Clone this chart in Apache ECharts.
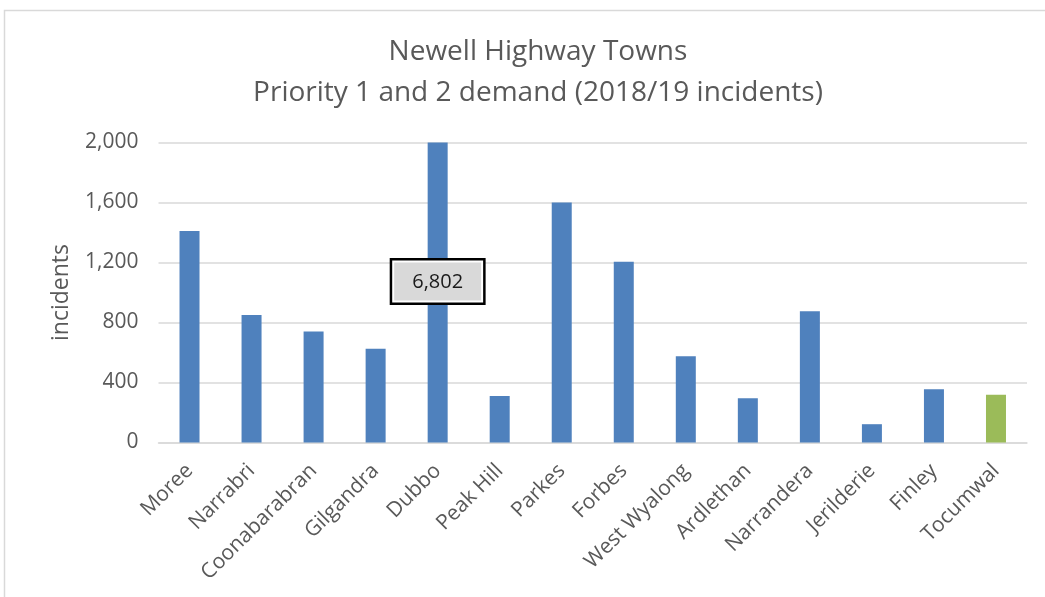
<!DOCTYPE html>
<html>
<head>
<meta charset="utf-8">
<title>Newell Highway Towns</title>
<script src="https://cdn.jsdelivr.net/npm/echarts@6/dist/echarts.min.js"></script>
<style>
  html, body { margin: 0; padding: 0; background: #ffffff; }
  #chart { width: 1045px; height: 597px; }
</style>
</head>
<body>
<div id="chart"></div>
<script>
// Towns along the Newell Highway, north to south
const towns = ['Moree', 'Narrabri', 'Coonabarabran', 'Gilgandra', 'Dubbo', 'Peak Hill',
  'Parkes', 'Forbes', 'West Wyalong', 'Ardlethan', 'Narrandera', 'Jerilderie', 'Finley', 'Tocumwal'];
// Priority 1 and 2 incidents, 2018/19
const incidents = [1410, 850, 740, 625, 6802, 310, 1600, 1205, 575, 295, 875, 122, 355, 318];
// Value axis ticks
const yMin = 0;
const yMax = 2000;
const yStep = 400;
// Town drawn in the highlight colour
const highlightTown = 'Tocumwal';
// Town whose bar runs off the scale and carries its value label
const labelledTown = 'Dubbo';

const FONT = 'Open Sans';
const BLUE = '#4f81bd';
const GREEN = '#9bbb59';
const GREY_TEXT = '#595959';

const withCommas = v => String(v).replace(/\B(?=(\d{3})+(?!\d))/g, ',');

const barData = towns.map((t, i) => {
  const item = { value: incidents[i] };
  if (t === highlightTown) item.itemStyle = { color: GREEN };
  if (t === labelledTown) {
    // Off-scale value shown in a boxed callout: black frame, white gap, grey fill
    item.label = {
      show: true,
      position: 'inside',
      offset: [0, -11],
      formatter: p => '{v|' + withCommas(p.value) + '}',
      backgroundColor: '#ffffff',
      borderColor: '#000000',
      borderWidth: 2.5,
      padding: 2,
      rich: {
        v: {
          fontFamily: FONT,
          fontSize: 20,
          color: '#1a1a1a',
          backgroundColor: '#d9d9d9',
          padding: [10, 18, 8, 18]
        }
      }
    };
  }
  return item;
});

const chart = echarts.init(document.getElementById('chart'), null, { renderer: 'canvas' });

chart.setOption({
  animation: false,
  backgroundColor: '#ffffff',
  graphic: [{
    type: 'rect',
    shape: { x: 4.5, y: 10.5, width: 1060, height: 620 },
    style: { fill: 'none', stroke: '#d9d9d9', lineWidth: 1.5 },
    silent: true,
    z: -10
  }],
  title: {
    text: 'Newell Highway Towns\nPriority 1 and 2 demand (2018/19 incidents)',
    left: 533,
    textAlign: 'center',
    top: 27,
    textStyle: {
      fontFamily: FONT,
      fontSize: 28,
      fontWeight: 'normal',
      color: GREY_TEXT,
      lineHeight: 41
    }
  },
  grid: { left: 158.5, right: 18, top: 142.5, bottom: 154.5, containLabel: false },
  xAxis: {
    type: 'category',
    data: towns,
    axisTick: { show: false },
    axisLine: { show: true, lineStyle: { color: '#d9d9d9', width: 1.5 } },
    axisLabel: {
      interval: 0,
      rotate: 45,
      margin: 25,
      fontFamily: FONT,
      fontSize: 21,
      color: GREY_TEXT
    }
  },
  yAxis: {
    type: 'value',
    min: yMin,
    max: yMax,
    interval: yStep,
    name: 'incidents',
    nameLocation: 'middle',
    nameRotate: 90,
    nameGap: 86,
    nameTextStyle: { fontFamily: FONT, fontSize: 23, color: GREY_TEXT },
    axisLine: { show: false },
    axisTick: { show: false },
    splitLine: { lineStyle: { color: '#d9d9d9', width: 1.5 } },
    axisLabel: {
      margin: 20,
      fontFamily: FONT,
      fontSize: 21,
      color: GREY_TEXT,
      formatter: v => withCommas(v)
    }
  },
  series: [{
    type: 'bar',
    data: barData,
    barWidth: 20,
    clip: true,
    itemStyle: { color: BLUE },
    label: { show: false }
  }]
});
</script>
</body>
</html>
